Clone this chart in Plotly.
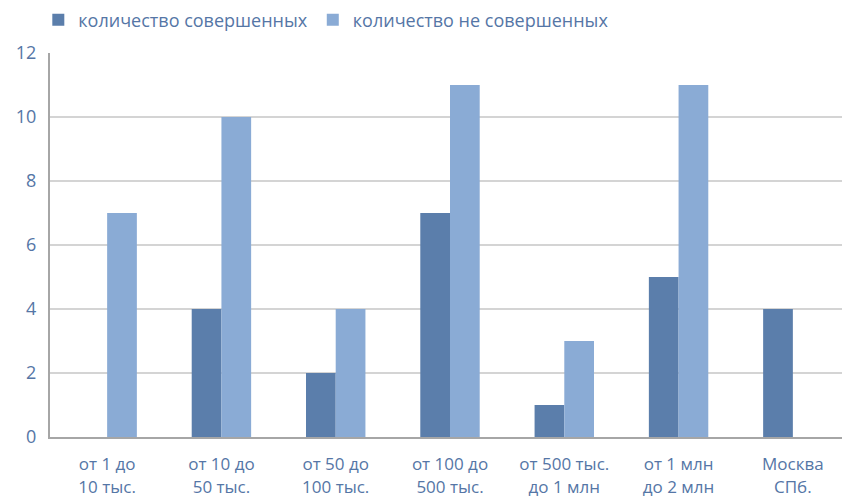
import plotly.graph_objects as go

categories = ["от 1 до<br>10 тыс.", "от 10 до<br>50 тыс.", "от 50 до<br>100 тыс.",
              "от 100 до<br>500 тыс.", "от 500 тыс.<br>до 1 млн", "от 1 млн<br>до 2 млн",
              "Москва<br>СПб."]
done = [0, 4, 2, 7, 1, 5, 4]
not_done = [7, 10, 4, 11, 3, 11, 0]
y_ticks = [0, 2, 4, 6, 8, 10, 12]

text_color = "#5576a6"
font_family = "Open Sans, Noto Sans, sans-serif"

fig = go.Figure()
fig.add_trace(go.Bar(x=categories, y=done, name="количество совершенных",
                     marker=dict(color="#5b7eab", line=dict(width=0))))
fig.add_trace(go.Bar(x=categories, y=not_done, name="количество не совершенных",
                     marker=dict(color="#8aabd5", line=dict(width=0))))

fig.update_layout(
    width=842, height=488,
    margin=dict(l=42, r=0, t=45, b=59, autoexpand=False),
    paper_bgcolor="white", plot_bgcolor="white",
    barmode="group", bargap=0.48, bargroupgap=0,
    font=dict(family=font_family, size=18, color=text_color),
    legend=dict(orientation="h", x=0.036, xref="container", y=1.086, yref="paper",
                yanchor="middle", xanchor="left", font=dict(size=18, color=text_color),
                itemwidth=30, traceorder="normal"),
    showlegend=True,
)
fig.update_xaxes(showgrid=False, showline=True, linecolor="#a6a6a6", linewidth=2,
                 ticks="", tickfont=dict(size=17, color=text_color),
                 automargin=False, ticklabelstandoff=11)
fig.update_yaxes(range=[0, 12], tickvals=y_ticks, showgrid=True, gridcolor="#d4d4d4",
                 gridwidth=1.5, showline=True, linecolor="#a6a6a6", linewidth=2,
                 ticks="", ticklen=0, tickfont=dict(size=18, color=text_color),
                 zeroline=False, automargin=False, ticklabelstandoff=8)

fig.write_html("out.html")
